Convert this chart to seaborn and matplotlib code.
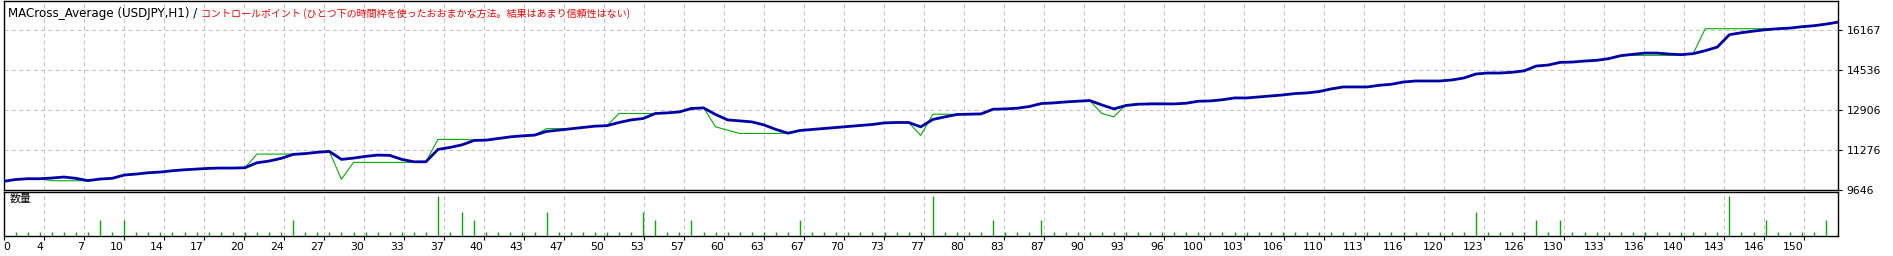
import numpy as np
import pandas as pd
import matplotlib
matplotlib.use("Agg")
import matplotlib.pyplot as plt
import seaborn as sns

# ---------------- data ----------------
balance = [
    10000, 10074, 10107, 10107, 10135, 10176, 10123, 10030, 10094, 10123,
    10257, 10298, 10351, 10380, 10433, 10473, 10502, 10530, 10543, 10543,
    10555, 10759, 10828, 10938, 11101, 11134, 11187, 11223, 10897, 10950,
    11020, 11073, 11060, 10897, 10799, 10799, 11305, 11386, 11492, 11672,
    11684, 11753, 11818, 11859, 11888, 12039, 12092, 12145, 12202, 12255,
    12275, 12405, 12511, 12568, 12772, 12797, 12837, 12976, 13001, 12732,
    12511, 12471, 12430, 12308, 12120, 11969, 12079, 12120, 12161, 12202,
    12242, 12283, 12324, 12389, 12405, 12405, 12226, 12528, 12634, 12732,
    12744, 12756, 12948, 12960, 12988, 13058, 13180, 13204, 13245, 13274,
    13302, 13123, 12960, 13098, 13151, 13164, 13164, 13164, 13192, 13274,
    13286, 13335, 13408, 13408, 13449, 13490, 13530, 13587, 13612, 13669,
    13775, 13857, 13857, 13857, 13926, 13967, 14060, 14101, 14101, 14101,
    14142, 14223, 14386, 14427, 14427, 14456, 14517, 14712, 14753, 14863,
    14875, 14916, 14945, 15014, 15136, 15189, 15242, 15242, 15202, 15177,
    15218, 15340, 15487, 15992, 16074, 16139, 16196, 16237, 16261, 16318,
    16359, 16424, 16506,
]

equity = [
    10000, 10074, 10107, 10107, 10025, 10025, 10025, 10025, 10094, 10123,
    10257, 10298, 10351, 10380, 10433, 10473, 10502, 10530, 10543, 10543,
    10555, 11113, 11113, 11113, 11113, 11134, 11187, 11223, 10082, 10775,
    10775, 10775, 10775, 10775, 10775, 10799, 11713, 11713, 11713, 11690,
    11684, 11753, 11818, 11859, 11888, 12153, 12153, 12145, 12202, 12255,
    12275, 12772, 12772, 12772, 12772, 12797, 12837, 13017, 13017, 12226,
    12092, 11957, 11957, 11957, 11957, 11969, 12079, 12120, 12161, 12202,
    12242, 12283, 12324, 12389, 12405, 12405, 11876, 12744, 12744, 12732,
    12744, 12756, 12948, 12960, 12988, 13058, 13180, 13204, 13245, 13274,
    13302, 12772, 12634, 13139, 13151, 13192, 13192, 13164, 13192, 13274,
    13286, 13335, 13408, 13408, 13449, 13490, 13530, 13587, 13612, 13669,
    13800, 13857, 13857, 13857, 13926, 13967, 14060, 14101, 14101, 14101,
    14142, 14223, 14386, 14427, 14427, 14456, 14517, 14712, 14753, 14863,
    14875, 14916, 14945, 15014, 15136, 15149, 15149, 15149, 15149, 15177,
    15218, 16237, 16237, 16237, 16237, 16237, 16237, 16237, 16261, 16318,
    16359, 16440, 16506,
]

volume = [
    0.1, 0.1, 0.1, 0.1, 0.1, 0.1, 0.1, 0.4, 0.1, 0.4,
    0.1, 0.1, 0.1, 0.1, 0.1, 0.1, 0.1, 0.1, 0.1, 0.1,
    0.1, 0.1, 0.1, 0.4, 0.1, 0.1, 0.1, 0.1, 0.1, 0.1,
    0.1, 0.1, 0.1, 0.1, 0.1, 1.0, 0.1, 0.6, 0.4, 0.1,
    0.1, 0.1, 0.1, 0.1, 0.6, 0.1, 0.1, 0.1, 0.1, 0.1,
    0.1, 0.1, 0.6, 0.4, 0.1, 0.1, 0.4, 0.1, 0.1, 0.1,
    0.1, 0.1, 0.1, 0.1, 0.1, 0.4, 0.1, 0.1, 0.1, 0.1,
    0.1, 0.1, 0.1, 0.1, 0.1, 0.1, 1.0, 0.1, 0.1, 0.1,
    0.1, 0.4, 0.1, 0.1, 0.1, 0.4, 0.1, 0.1, 0.1, 0.1,
    0.1, 0.1, 0.1, 0.1, 0.1, 0.1, 0.1, 0.1, 0.1, 0.1,
    0.1, 0.1, 0.1, 0.1, 0.1, 0.1, 0.1, 0.1, 0.1, 0.1,
    0.1, 0.1, 0.1, 0.1, 0.1, 0.1, 0.1, 0.1, 0.1, 0.1,
    0.1, 0.6, 0.1, 0.1, 0.1, 0.1, 0.4, 0.1, 0.4, 0.1,
    0.1, 0.1, 0.1, 0.1, 0.1, 0.1, 0.1, 0.1, 0.1, 0.1,
    0.1, 0.1, 1.0, 0.1, 0.1, 0.4, 0.1, 0.1, 0.1, 0.1,
    0.4, 0.1,
]

x_tick_labels = ["0", "4", "7", "10", "14", "17", "20", "24", "27", "30", "33", "37",
                 "40", "43", "47", "50", "53", "57", "60", "63", "67", "70", "73", "77",
                 "80", "83", "87", "90", "93", "96", "100", "103", "106", "110", "113",
                 "116", "120", "123", "126", "130", "133", "136", "140", "143", "146", "150"]
y_tick_values = [9646, 11276, 12906, 14536, 16167]
y_tick_labels = ["9646", "11276", "12906", "14536", "16167"]

title_left = "MACross_Average (USDJPY,H1) / "
title_right = "コントロールポイント (ひとつ下の時間枠を使ったおおまかな方法。結果はあまり信頼性はない)"
volume_label = "数量"

# ---------------- style ----------------
sns.set_style("white")
plt.rcParams["font.family"] = ["DejaVu Sans", "Noto Sans CJK JP"]

BLUE = "#0000AA"
GREEN = "#00B000"
GRID = "#C4C4C4"
W, H = 1893, 256

df = pd.DataFrame({"trade": np.arange(len(balance)), "balance": balance, "equity": equity})
dv = pd.DataFrame({"trade": np.arange(1, len(volume) + 1), "volume": volume})

fig = plt.figure(figsize=(W / 100, H / 100), dpi=100)
fig.patch.set_facecolor("white")


def rect(x0, y0, x1, y1):
    return [x0 / W, 1 - y1 / H, (x1 - x0) / W, (y1 - y0) / H]


ax = fig.add_axes(rect(3.5, 0.5, 1838, 190))
axv = fig.add_axes(rect(3.5, 192, 1838, 236))

n_last = len(balance) - 1
grid_step = 40 * n_last / (1838 - 4)
tick_pos = np.arange(len(x_tick_labels)) * grid_step

# main panel
sns.lineplot(data=df, x="trade", y="equity", ax=ax, color=GREEN, linewidth=0.8, zorder=3)
sns.lineplot(data=df, x="trade", y="balance", ax=ax, color=BLUE, linewidth=2.0, zorder=4)
ax.set_xlim(0, n_last)
ax.set_ylim(9646, 17390)
ax.set_xticks(tick_pos)
ax.set_yticks(y_tick_values)
ax.set_yticklabels(y_tick_labels)
ax.yaxis.tick_right()
ax.tick_params(axis="y", direction="out", length=3, width=0.8, pad=3, labelsize=7.8,
               colors="black", right=True, left=False)
ax.tick_params(axis="x", length=0, labelbottom=False)
ax.set_xlabel("")
ax.set_ylabel("")
ax.grid(True, color=GRID, linestyle=(0, (4, 3)), linewidth=0.75)
ax.set_axisbelow(True)
for s in ax.spines.values():
    s.set_color("black")
    s.set_linewidth(1.0)

# volume panel
axv.vlines(dv["trade"], 0, dv["volume"], color=GREEN, linewidth=1.0, zorder=3)
axv.set_xlim(0, n_last)
axv.set_ylim(0, 1.1)
axv.set_yticks([])
axv.set_xticks(tick_pos)
axv.set_xticklabels(x_tick_labels)
axv.tick_params(axis="x", direction="out", length=3, width=0.8, pad=1.5, labelsize=7.8,
                colors="black", bottom=True)
for lbl in axv.get_xticklabels():
    lbl.set_horizontalalignment("right")
axv.get_xticklabels()[0].set_horizontalalignment("left")
axv.grid(True, axis="x", color=GRID, linestyle=(0, (4, 3)), linewidth=0.75)
axv.set_axisbelow(True)
for s in axv.spines.values():
    s.set_color("black")
    s.set_linewidth(1.0)
axv.text(6 / 1834, 0.86, volume_label, transform=axv.transAxes, ha="left", va="center",
         fontsize=7.8, family=["Noto Sans CJK JP", "DejaVu Sans"], color="black")

# title
t1 = fig.text(8 / W, 1 - 14 / H, title_left, ha="left", va="center", fontsize=8.6,
              color="black", family=["DejaVu Sans", "Noto Sans CJK JP"])
ax.annotate(title_right, xy=(1, 0.5), xycoords=t1, ha="left", va="center",
            fontsize=7.2, color="#FF0000", family=["Noto Sans CJK JP", "DejaVu Sans"],
            annotation_clip=False)

fig.savefig("out.png", dpi=100, facecolor="white")
